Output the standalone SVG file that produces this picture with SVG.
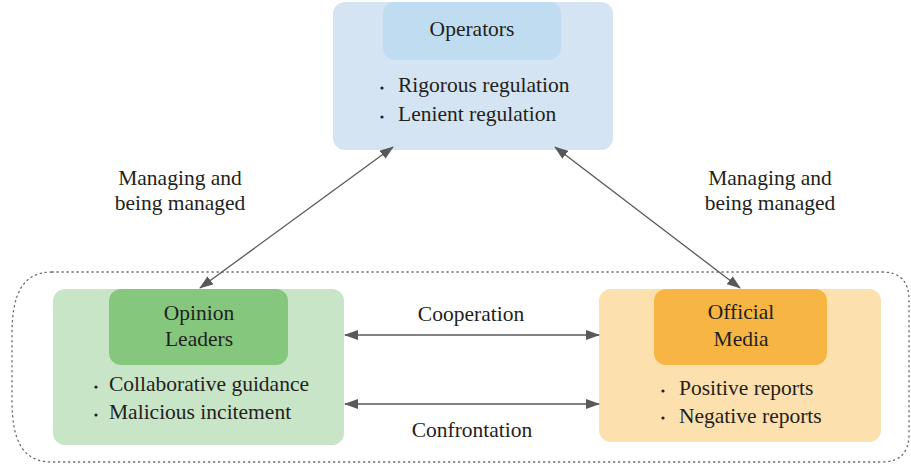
<svg xmlns="http://www.w3.org/2000/svg" width="911" height="466" viewBox="0 0 911 466">
<defs>
<marker id="ah" markerWidth="14" markerHeight="10" refX="13" refY="5" orient="auto-start-reverse" markerUnits="userSpaceOnUse">
<path d="M0,0 L14,5 L0,10 Z" fill="#595959"/>
</marker>
<style>
text{font-family:"Liberation Serif","Times New Roman",serif;font-size:21.5px;fill:#231f20}
.c{text-anchor:middle}
.conn{stroke:#595959;stroke-width:1.3;fill:none;marker-start:url(#ah);marker-end:url(#ah)}
.dot{fill:#231f20}
</style>
</defs>
<path d="M 52 272 H 882 Q 909 272 909 300 V 434 Q 909 462 882 462 H 52 C 22 462 12 440 12 400 V 334 C 12 295 22 272 52 272 Z" fill="none" stroke="#666" stroke-width="1.3" stroke-dasharray="1.2 3.8" stroke-linecap="round"/>
<g id="operators">
<rect x="333" y="2" width="280" height="148" rx="12" fill="#d5e4f2"/>
<rect x="383" y="2" width="178" height="58" rx="12" fill="#bfdcf1"/>
<text class="c" x="472" y="36">Operators</text>
<circle class="dot" cx="382" cy="88" r="1.6"/>
<text x="398" y="92">Rigorous regulation</text>
<circle class="dot" cx="382" cy="117" r="1.6"/>
<text x="398" y="121">Lenient regulation</text>
</g>
<g id="opinion-leaders">
<rect x="53" y="289" width="291" height="156" rx="12" fill="#c9e5c7"/>
<rect x="109" y="289" width="179" height="76" rx="12" fill="#86c77e"/>
<text class="c" x="199" y="320">Opinion</text>
<text class="c" x="199" y="346">Leaders</text>
<circle class="dot" cx="96" cy="387" r="1.6"/>
<text x="109" y="391">Collaborative guidance</text>
<circle class="dot" cx="96" cy="415" r="1.6"/>
<text x="109" y="419">Malicious incitement</text>
</g>
<g id="official-media">
<rect x="599" y="289" width="282" height="153" rx="12" fill="#fce0ae"/>
<rect x="654" y="289" width="173" height="76" rx="12" fill="#f7b643"/>
<text class="c" x="741" y="319">Official</text>
<text class="c" x="741" y="346">Media</text>
<circle class="dot" cx="663" cy="391" r="1.6"/>
<text x="679" y="395">Positive reports</text>
<circle class="dot" cx="663" cy="418" r="1.6"/>
<text x="679" y="423">Negative reports</text>
</g>
<g id="connectors">
<line class="conn" x1="393" y1="147" x2="200" y2="288"/>
<line class="conn" x1="555" y1="147" x2="740" y2="288"/>
<line class="conn" x1="345" y1="335" x2="599" y2="335"/>
<line class="conn" x1="345" y1="404" x2="599" y2="404"/>
<text class="c" x="180" y="185">Managing and</text>
<text class="c" x="180" y="210">being managed</text>
<text class="c" x="770" y="185">Managing and</text>
<text class="c" x="770" y="210">being managed</text>
<text class="c" x="471" y="321">Cooperation</text>
<text class="c" x="472" y="437">Confrontation</text>
</g>
</svg>
